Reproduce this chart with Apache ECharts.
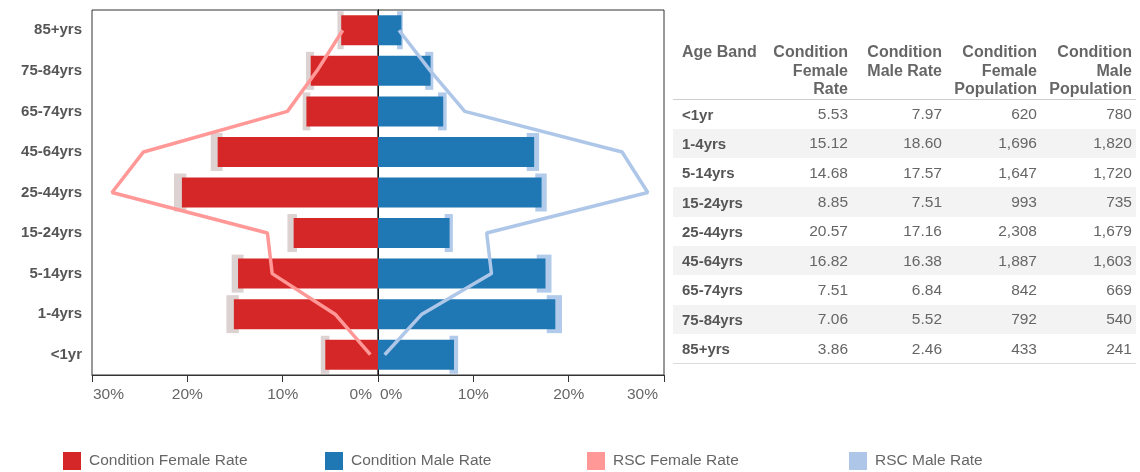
<!DOCTYPE html>
<html>
<head>
<meta charset="utf-8">
<script src="https://cdn.jsdelivr.net/npm/echarts@6/dist/echarts.min.js"></script>
<style>
  html, body { margin: 0; padding: 0; background: #fff; }
  #wrap { position: relative; width: 1140px; height: 472px; overflow: hidden; }
  #chart { position: absolute; left: 0; top: 0; width: 1140px; height: 472px; }
  #tbl { position: absolute; left: 673px; top: 42px; border-collapse: collapse; table-layout: fixed;
         font-family: 'Liberation Sans', Arial, sans-serif; }
  #tbl th { font-size: 16px; font-weight: bold; color: #666; line-height: 18.5px; vertical-align: top;
            height: 55px; padding: 1px 4px 0 0; text-align: right; border-bottom: 1px solid #cfcfcf; box-sizing: border-box; }
  #tbl th.first { text-align: left; padding-left: 9px; }
  #tbl td { font-size: 15.5px; color: #666; height: 29.3px; padding: 0 4px 0 0; text-align: right; }
  #tbl td.first { text-align: left; padding-left: 9px; font-weight: bold; color: #555; font-size: 15px; }
  #tbl tr.alt td { background: #f3f3f3; }
  #tbl tr.last td { border-bottom: 1px solid #dcdcdc; }
</style>
</head>
<body>
<div id="wrap">
  <div id="chart"></div>
  <table id="tbl"></table>
</div>
<script>
// ---- data ----
const categories   = ['<1yr', '1-4yrs', '5-14yrs', '15-24yrs', '25-44yrs', '45-64yrs', '65-74yrs', '75-84yrs', '85+yrs'];
const femaleRate   = [5.53, 15.12, 14.68, 8.85, 20.57, 16.82, 7.51, 7.06, 3.86];
const maleRate     = [7.97, 18.60, 17.57, 7.51, 17.16, 16.38, 6.84, 5.52, 2.46];
const femalePop    = [620, 1696, 1647, 993, 2308, 1887, 842, 792, 433];
const malePop      = [780, 1820, 1720, 735, 1679, 1603, 669, 540, 241];
const rscFemale    = [0.8, 4.5, 11.1, 11.6, 27.9, 24.6, 9.5, 6.4, 3.7];
const rscMale      = [0.7, 4.6, 11.9, 11.4, 28.3, 25.6, 9.1, 5.5, 2.2];
const femaleCiLow  = [5.1, 14.6, 14.1, 8.5, 20.1, 16.3, 7.1, 6.7, 3.6];
const femaleCiHigh = [6.0, 15.9, 15.35, 9.5, 21.4, 17.55, 7.9, 7.55, 4.25];
const maleCiLow    = [7.5, 17.7, 16.65, 7.0, 16.5, 15.6, 6.3, 4.95, 2.0];
const maleCiHigh   = [8.4, 19.3, 18.2, 7.85, 17.7, 16.9, 7.2, 5.8, 2.6];
const tableHeaders = ['Age Band', 'Condition<br>Female<br>Rate', 'Condition<br>Male Rate', 'Condition<br>Female<br>Population', 'Condition<br>Male<br>Population'];
const legendNames  = ['Condition Female Rate', 'Condition Male Rate', 'RSC Female Rate', 'RSC Male Rate'];

// ---- table ----
(function buildTable() {
  const widths = [98, 81, 94, 95, 95];
  let html = '<colgroup>' + widths.map(w => '<col style="width:' + w + 'px">').join('') + '</colgroup>';
  html += '<tr>' + tableHeaders.map((h, i) => '<th class="' + (i === 0 ? 'first' : '') + '">' + h + '</th>').join('') + '</tr>';
  categories.forEach((c, i) => {
    const cls = (i % 2 === 1 ? 'alt' : '') + (i === categories.length - 1 ? ' last' : '');
    html += '<tr class="' + cls + '"><td class="first">' + c.replace('<', '&lt;') + '</td>' +
      '<td>' + femaleRate[i].toFixed(2) + '</td>' +
      '<td>' + maleRate[i].toFixed(2) + '</td>' +
      '<td>' + femalePop[i].toLocaleString('en-US') + '</td>' +
      '<td>' + malePop[i].toLocaleString('en-US') + '</td></tr>';
  });
  document.getElementById('tbl').innerHTML = html;
})();

// ---- chart ----
const FONT = "'Liberation Sans', Arial, sans-serif";
const C_F = '#d62728', C_M = '#1f77b4', C_RF = '#ff9896', C_RM = '#aec7e8';
const C_FCI = '#ddd2d2', C_MCI = '#b3cbea';

function ciRender(color) {
  return function (params, api) {
    const p1 = api.coord([api.value(0), api.value(2)]);
    const p2 = api.coord([api.value(1), api.value(2)]);
    const h = 38;
    return {
      type: 'rect',
      shape: { x: Math.min(p1[0], p2[0]), y: p1[1] - h / 2, width: Math.abs(p1[0] - p2[0]), height: h },
      style: { fill: color }
    };
  };
}

const labelBase = { color: '#666', fontSize: 15.5, fontFamily: FONT };
function axisLabelFor(side) {
  return {
    margin: 12,
    color: '#666', fontSize: 15.5, fontFamily: FONT,
    alignMinLabel: side === 'left' ? 'right' : 'left',
    alignMaxLabel: side === 'left' ? 'left' : 'right',
    formatter: function (v) {
      if (v === 0) return '{z|' + v + '%}';
      if (v === 30) return '{e|' + v + '%}';
      return v + '%';
    },
    rich: {
      z: Object.assign({}, labelBase, { padding: side === 'left' ? [0, 6, 0, 0] : [0, 0, 0, 2] }),
      e: Object.assign({}, labelBase, { padding: side === 'left' ? [0, 0, 0, 1] : [0, 6, 0, 0] })
    }
  };
}

const xAxisCommon = {
  type: 'value', min: 0, max: 30, interval: 10,
  splitLine: { show: false },
  axisLine: { show: true, lineStyle: { color: '#333', width: 1 } },
  axisTick: { show: true, length: 7, lineStyle: { color: '#333' } }
};

const legends = legendNames.map((n, i) => ({
  data: [n], left: 58 + i * 262, top: 447, icon: 'rect', itemWidth: 18, itemHeight: 18,
  selectedMode: false,
  textStyle: { color: '#666', fontSize: 15.5, fontFamily: FONT, padding: [0, 0, 0, 3] }
}));

const option = {
  animation: false,
  backgroundColor: '#fff',
  legend: legends,
  grid: [
    { left: 92, top: 10, width: 286, height: 365, show: true, borderColor: '#333', borderWidth: 1, backgroundColor: 'transparent' },
    { left: 378, top: 10, width: 286, height: 365, show: true, borderColor: '#333', borderWidth: 1, backgroundColor: 'transparent' }
  ],
  xAxis: [
    Object.assign({}, xAxisCommon, { gridIndex: 0, inverse: true, axisLabel: axisLabelFor('left') }),
    Object.assign({}, xAxisCommon, { gridIndex: 1, axisLabel: axisLabelFor('right') })
  ],
  yAxis: [
    { type: 'category', gridIndex: 0, data: categories,
      axisLine: { show: true, lineStyle: { color: '#333' } }, axisTick: { show: false },
      axisLabel: { color: '#555', fontWeight: 'bold', fontSize: 15, fontFamily: FONT, margin: 10 } },
    { type: 'category', gridIndex: 1, data: categories,
      axisLine: { show: true, lineStyle: { color: '#111' } }, axisTick: { show: false }, axisLabel: { show: false } }
  ],
  series: [
    { type: 'custom', name: 'Female CI', xAxisIndex: 0, yAxisIndex: 0, z: 1, silent: true,
      renderItem: ciRender(C_FCI), encode: { x: [0, 1], y: 2 },
      data: categories.map((c, i) => [femaleCiLow[i], femaleCiHigh[i], i]) },
    { type: 'custom', name: 'Male CI', xAxisIndex: 1, yAxisIndex: 1, z: 1, silent: true,
      renderItem: ciRender(C_MCI), encode: { x: [0, 1], y: 2 },
      data: categories.map((c, i) => [maleCiLow[i], maleCiHigh[i], i]) },
    { type: 'bar', name: legendNames[0], xAxisIndex: 0, yAxisIndex: 0, z: 2, barWidth: 30,
      itemStyle: { color: C_F }, data: femaleRate },
    { type: 'bar', name: legendNames[1], xAxisIndex: 1, yAxisIndex: 1, z: 2, barWidth: 30,
      itemStyle: { color: C_M }, data: maleRate },
    { type: 'line', name: legendNames[2], xAxisIndex: 0, yAxisIndex: 0, z: 3, symbol: 'none',
      itemStyle: { color: C_RF }, lineStyle: { color: C_RF, width: 3.5 },
      data: categories.map((c, i) => [rscFemale[i], c]) },
    { type: 'line', name: legendNames[3], xAxisIndex: 1, yAxisIndex: 1, z: 3, symbol: 'none',
      itemStyle: { color: C_RM }, lineStyle: { color: C_RM, width: 3.5 },
      data: categories.map((c, i) => [rscMale[i], c]) }
  ]
};

const chart = echarts.init(document.getElementById('chart'), null, { renderer: 'canvas' });
chart.setOption(option);
</script>
</body>
</html>
